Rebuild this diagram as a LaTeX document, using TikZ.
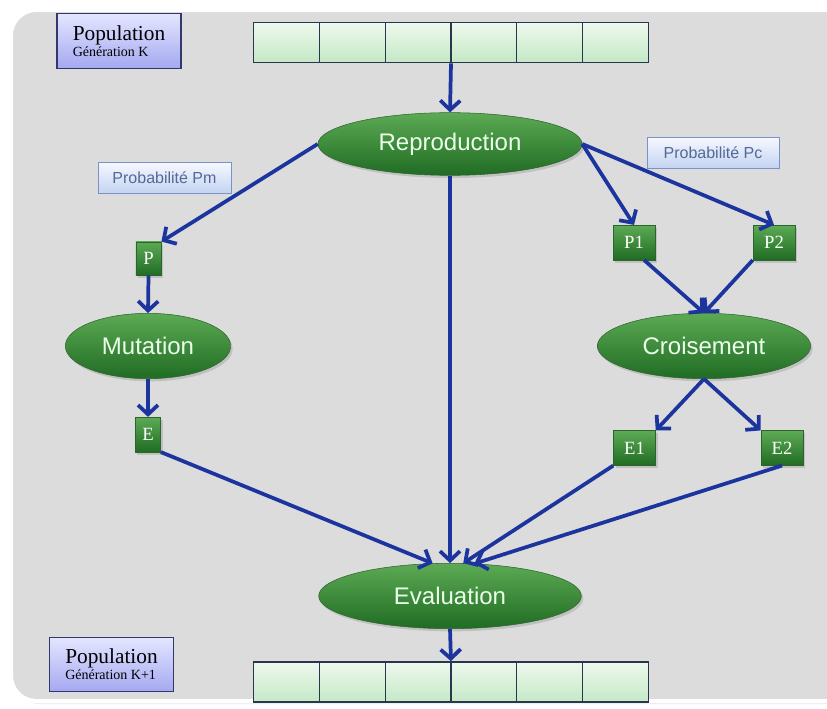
\documentclass[tikz,border=0pt]{standalone}
\usepackage{fontspec}
\setmainfont{Liberation Serif}
\setsansfont{Liberation Sans}
\usepackage{tikz}
\usetikzlibrary{matrix,shapes.geometric,shadows,arrows.meta}
\definecolor{fond}{RGB}{220,220,220}
\definecolor{bleuFleche}{RGB}{28,52,158}
\definecolor{vertH}{RGB}{92,170,84}
\definecolor{vertB}{RGB}{32,108,36}
\definecolor{vertC}{RGB}{45,100,45}
\definecolor{bleuH}{RGB}{246,248,255}
\definecolor{bleuB}{RGB}{196,212,242}
\definecolor{bleuC}{RGB}{122,146,200}
\definecolor{bleuT}{RGB}{85,105,150}
\definecolor{popH}{RGB}{228,230,255}
\definecolor{popB}{RGB}{164,168,240}
\definecolor{popC}{RGB}{50,55,110}
\definecolor{caseH}{RGB}{238,249,238}
\definecolor{caseB}{RGB}{196,232,198}
\definecolor{caseC}{RGB}{40,55,75}
\tikzset{
	ombre/.style={drop shadow={opacity=0.3,shadow xshift=1.5pt,shadow yshift=-2pt}},
	etape/.style={ellipse,draw=vertC,top color=vertH,bottom color=vertB,inner sep=0pt,ombre,
		text=white!92!green,font=\sffamily\fontsize{18}{20}\selectfont},
	indiv/.style={rectangle,draw=vertC,top color=vertH,bottom color=vertB,inner sep=0pt,ombre,
		minimum height=26pt,text=white,font=\fontsize{14}{16}\selectfont},
	proba/.style={rectangle,draw=bleuC,top color=bleuH,bottom color=bleuB,inner sep=0pt,
		minimum width=100pt,minimum height=23pt,text=bleuT,font=\sffamily\fontsize{12}{14}\selectfont},
	popu/.style={rectangle,draw=popC,thick,top color=popH,bottom color=popB,inner sep=0pt,
		minimum width=93pt,minimum height=41pt,align=left},
	cellule/.style={rectangle,draw=caseC,line width=0.8pt,top color=caseH,bottom color=caseB,
		minimum width=49.3pt,minimum height=30pt,inner sep=0pt},
	fleche/.style={draw=bleuFleche,line width=2.8pt,-{Straight Barb[length=7pt,width=15pt]}}
}
\newcommand{\popu}[1]{{\fontsize{16}{17}\selectfont Population}\\{\fontsize{10.5}{12}\selectfont Génération #1}}
\begin{document}
\begin{tikzpicture}[x=0.75pt,y=-0.75pt]
	\useasboundingbox (0,0) rectangle (827,709);
	\fill[white] (0,0) rectangle (827,709);
	\draw[fill=fond,draw=white,line width=3pt,rounded corners=19pt,drop shadow={opacity=0.15}] (11,10) rectangle (850,701);

	\node[popu] (genK) at (119,41) {\popu{K}};
	\node[popu] (genK1) at (111.5,664.5) {\popu{K+1}};
	\matrix [matrix of nodes,nodes in empty cells,inner sep=0pt,column sep=-0.8pt,
	nodes={cellule},
	] (popK) at (451,42.5)
	{
	 & & & & & \\
	};
	\matrix [matrix of nodes,nodes in empty cells,inner sep=0pt,column sep=-0.8pt,
	nodes={cellule},
	] (popK1) at (451,682)
	{
	 & & & & & \\
	};

	\node[etape,minimum width=198pt,minimum height=47pt] (reproduction) at (450,144) {Reproduction};
	\node[etape,minimum width=124pt,minimum height=49pt] (mutation) at (148,346) {Mutation};
	\node[etape,minimum width=160pt,minimum height=49pt] (croisement) at (704,346) {Croisement};
	\node[etape,minimum width=197pt,minimum height=49pt] (evaluation) at (450,596) {Evaluation};

	\node[proba] (probPm) at (164.5,177.5) {Probabilité Pm};
	\node[proba,minimum width=99pt] (probPc) at (713,152.5) {Probabilité Pc};

	\node[indiv,minimum width=19pt,minimum height=25pt] (P) at (148.5,258.5) {P};
	\node[indiv,minimum width=31.5pt] (P1) at (634,242.5) {P1};
	\node[indiv,minimum width=31.5pt] (P2) at (774,242.5) {P2};
	\node[indiv,minimum width=19pt] (E) at (148,434.5) {E};
	\node[indiv,minimum width=31.5pt] (E1) at (634.5,448) {E1};
	\node[indiv,minimum width=31.5pt] (E2) at (782,448) {E2};

	\draw[fleche] (popK.south) -- (reproduction.north);
	\draw[fleche] (reproduction.west) -- (P.north east);
	\draw[fleche] (reproduction.south) -- (evaluation.north);
	\draw[fleche] (reproduction.east) -- (P1.north);
	\draw[fleche] (reproduction.east) -- (P2.north);
	\draw[fleche] (P.south) -- (mutation.north);
	\draw[fleche] (mutation.south) -- (E.north);
	\draw[fleche] (P1.-60) -- (croisement.north);
	\draw[fleche] (P2.south west) -- (croisement.north);
	\draw[fleche] (croisement.south) -- (E1.north east);
	\draw[fleche] (croisement.south) -- (E2.north west);
	\draw[fleche] (E.south east) -- (evaluation.118);
	\draw[fleche] (E1.south west) -- (evaluation.68);
	\draw[fleche] (E2.south) -- (evaluation.53);
	\draw[fleche] (evaluation.south) -- (popK1.north);
\end{tikzpicture}
\end{document}
